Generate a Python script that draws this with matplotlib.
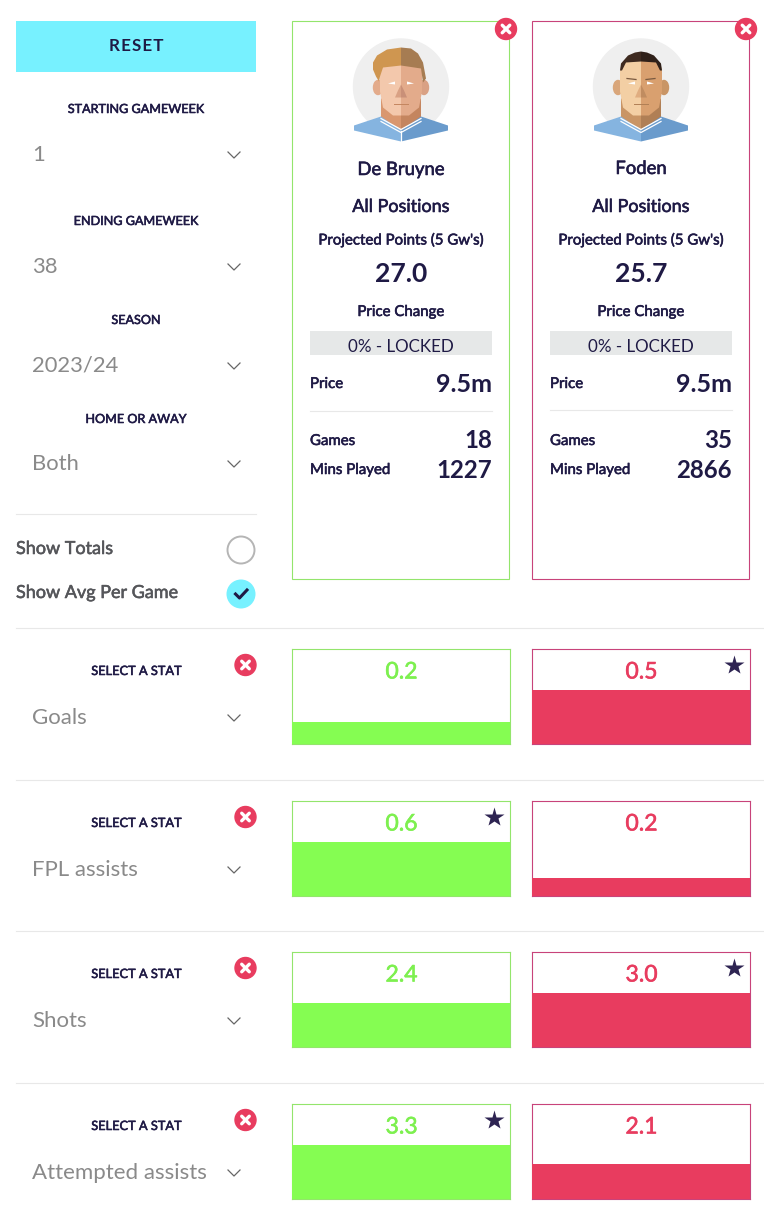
import matplotlib
matplotlib.use('Agg')
import matplotlib.pyplot as plt
import matplotlib.patheffects as pe
from matplotlib.patches import Circle, Ellipse, Polygon, Rectangle

plt.rcParams['font.family'] = ['Lato', 'DejaVu Sans']

NAVY = '#1f1a45'
GREY = '#8a8a8a'
DARK = '#55565a'
RULE = '#e8e8e8'
GREEN = '#85fd52'
GREEN_EDGE = '#93e56c'
RED = '#e83c5f'
RED_EDGE = '#c8437a'
CYAN = '#77f1ff'

# left panel
filter_labels = ['STARTING GAMEWEEK', 'ENDING GAMEWEEK', 'SEASON', 'HOME OR AWAY']
filter_values = ['1', '38', '2023/24', 'Both']
filter_label_y = [108, 220, 319, 418]
filter_value_y = [154, 266, 365, 463]

# players
players = ['De Bruyne', 'Foden']
projected = ['27.0', '25.7']
prices = ['9.5m', '9.5m']
games = [18, 35]
mins_played = [1227, 2866]

# stat rows
stat_names = ['Goals', 'FPL assists', 'Shots', 'Attempted assists']
de_bruyne_vals = [0.2, 0.6, 2.4, 3.3]
foden_vals = [0.5, 0.2, 3.0, 2.1]
row_tops = [649, 801, 952, 1104]
box_h = 94.5
# the bigger bar of a row fills this share of its box
top_share = 0.57
card_x = [292, 532]
card_w = 217.5

W, H = 764, 1226
fig = plt.figure(figsize=(W / 100, H / 100), dpi=100)
ax = fig.add_axes([0, 0, 1, 1], zorder=3)
ax.set_xlim(0, W)
ax.set_ylim(H, 0)
ax.axis('off')
ax.patch.set_alpha(0)


def txt(x, y, s, size, color=NAVY, ha='center', weight='medium'):
    # no medium cut of the font here, so thicken the regular one a little
    effects = []
    font_weight = weight
    if weight == 'medium':
        font_weight = 'normal'
        effects = [pe.withStroke(linewidth=0.4, foreground=color)]
    ax.text(x, y + 1, s, fontsize=size * 0.72, color=color, ha=ha, va='center',
            fontweight=font_weight, path_effects=effects)


def chevron(x, y):
    ax.plot([x - 6, x, x + 6], [y - 3, y + 3, y - 3], color='#666666', lw=0.9)


def close_btn(x, y, r=10.5):
    ax.add_patch(Circle((x, y), r, color=RED, zorder=5))
    d = r * 0.36
    ax.plot([x - d, x + d], [y - d, y + d], color='white', lw=2.4, zorder=6, solid_capstyle='round')
    ax.plot([x - d, x + d], [y + d, y - d], color='white', lw=2.4, zorder=6, solid_capstyle='round')


def poly(cx, cy, points, color, z=2):
    pts = [(cx + a, cy + b) for a, b in points]
    ax.add_patch(Polygon(pts, closed=True, facecolor=color, edgecolor='none', zorder=z))


def mirror(points):
    return [(-a, b) for a, b in points]


def portrait(cx, foden):
    # left half of the head is lit, right half in shade
    cy = 86.5
    ax.add_patch(Circle((cx, cy), 47.5, color='#efefef', zorder=1))
    if foden:
        hair_l, hair_r, skin_l, skin_r = '#3e2a20', '#2f2019', '#f3cfa4', '#d9a06f'
        neck_l, neck_r = '#c99565', '#b07f55'
        ear_l, ear_r = '#d9a67a', '#c99565'
        nose_l, nose_r = '#e0ad80', '#c08c60'
    else:
        hair_l, hair_r, skin_l, skin_r = '#cf9650', '#a67c52', '#f3c8ac', '#e3ab8b'
        neck_l, neck_r = '#d9976f', '#c4855f'
        ear_l, ear_r = '#e3ab8b', '#d9a184'
        nose_l, nose_r = '#d9a184', '#c99078'
    # neck
    neck = [(-20, 12), (0, 12), (0, 44), (-20, 33)]
    poly(cx, cy, neck, neck_l)
    poly(cx, cy, mirror(neck), neck_r)
    # ears
    ax.add_patch(Ellipse((cx - 23, cy + 1), 9, 14, color=ear_l, zorder=2))
    ax.add_patch(Ellipse((cx + 23, cy + 1), 9, 14, color=ear_r, zorder=2))
    # face
    face = [(-21, -16), (-19, -24), (0, -27), (0, 29), (-8, 29), (-18, 21), (-21, 5)]
    poly(cx, cy, face, skin_l, 3)
    poly(cx, cy, mirror(face), skin_r, 3)
    # hair
    if foden:
        hair = [(-21, -16), (-20, -23), (-13, -31), (-6, -34), (0, -35), (0, -25), (-15, -24), (-19, -16)]
        poly(cx, cy, hair, hair_l, 4)
        poly(cx, cy, mirror(hair), hair_r, 4)
        ax.plot([cx - 14, cx - 5], [cy - 8, cy - 7], color='#7a5a40', lw=0.9, zorder=4)
        ax.plot([cx + 14, cx + 5], [cy - 8, cy - 7], color='#7a5a40', lw=0.9, zorder=4)
    else:
        poly(cx, cy, [(-22, -5), (-25, -10), (-28, -17), (-28, -24), (-24, -31), (-14, -37), (0, -39),
                      (0, -21), (-18, -19), (-21, -10)], hair_l, 4)
        poly(cx, cy, [(0, -39), (10, -38), (17, -33), (22, -24), (25, -8), (22, -4), (20, -18), (0, -21)], hair_r, 4)
    # nose, eyes, mouth
    nose = [(0, -2), (0, 11), (-6, 11), (-3, 4)]
    poly(cx, cy, nose, nose_l, 4)
    poly(cx, cy, mirror(nose), nose_r, 4)
    for sign in (-1, 1):
        poly(cx, cy, [(sign * 13, -3), (sign * 6, -5), (sign * 6, -2)], 'white', 4)
    ax.plot([cx - 7, cx + 7], [cy + 17, cy + 17], color=neck_r, lw=0.7, zorder=4)
    # shirt
    shirt = [(-47, 39), (-20, 30), (0, 44), (0, 55), (-47, 44)]
    poly(cx, cy, shirt, '#85b4e0', 5)
    poly(cx, cy, mirror(shirt), '#6a9bcc', 5)
    ax.plot([cx - 20, cx, cx + 20], [cy + 32, cy + 43, cy + 32], color='white', lw=0.9, zorder=6)
    ax.plot([cx - 20, cx, cx + 20], [cy + 35, cy + 46, cy + 35], color='white', lw=0.9, zorder=6)
    if not foden:
        ax.plot([cx, cx], [cy + 44, cy + 55], color='white', lw=0.9, zorder=6)


# reset button and filters
ax.add_patch(Rectangle((16, 21), 240, 51, color=CYAN, lw=0))
txt(136, 45, '\u200a'.join('RESET'), 17, weight='bold')
for lab, val, ly, vy in zip(filter_labels, filter_values, filter_label_y, filter_value_y):
    txt(136, ly, lab, 12.6)
    txt(32, vy, val, 22, color=GREY, ha='left', weight='normal')
    chevron(234, vy + 1)

# toggles
ax.plot([16, 256], [514, 514], color=RULE, lw=0.8)
txt(16, 548, 'Show Totals', 18, color=DARK, ha='left')
txt(16, 592, 'Show Avg Per Game', 18, color=DARK, ha='left')
ax.add_patch(Circle((241, 550), 13.5, facecolor='white', edgecolor='#b5b5b5', lw=1.4))
ax.add_patch(Circle((241, 594), 14.5, facecolor=CYAN, edgecolor='none'))
ax.plot([235.5, 239.5, 247], [594, 598, 590], color=NAVY, lw=2.2)

# player cards
for i, x in enumerate(card_x):
    edge = GREEN_EDGE if i == 0 else RED_EDGE
    cx = x + 109
    ax.add_patch(Rectangle((x, 21), 217, 558, facecolor='white', edgecolor=edge, lw=0.8, zorder=0.5))
    close_btn(x + 214, 29)
    portrait(cx, i == 1)
    dy = 0 if i == 0 else -1
    txt(cx, 169 + dy, players[i], 18.5)
    txt(cx, 206, 'All Positions', 18)
    txt(cx, 239, "Projected Points (5 Gw's)", 15)
    txt(cx, 273, projected[i], 26.5, weight='bold')
    txt(cx, 311, 'Price Change', 15)
    ax.add_patch(Rectangle((x + 18, 331), 182, 24, color='#e6e8e8', lw=0, zorder=1))
    txt(cx, 346, '0% - LOCKED', 17, weight='normal')
    txt(x + 18, 383, 'Price', 15, ha='left')
    txt(x + 200, 383, prices[i], 25, ha='right', weight='bold')
    ax.plot([x + 18, x + 200], [411 + dy, 411 + dy], color=RULE, lw=0.8)
    txt(x + 18, 440, 'Games', 15, ha='left')
    txt(x + 200, 440, str(games[i]), 24, ha='right', weight='bold')
    txt(x + 18, 469, 'Mins Played', 15, ha='left')
    txt(x + 200, 469, str(mins_played[i]), 24, ha='right', weight='bold')

# stat rows
for r, top in enumerate(row_tops):
    ax.plot([16, 764], [top - 21, top - 21], color=RULE, lw=0.8)
    txt(136, top + 21, 'SELECT A STAT', 12.8)
    close_btn(245.5, top + 16)
    txt(32, top + 68, stat_names[r], 22.3, color=GREY, ha='left', weight='normal')
    chevron(234, top + 69)
    vals = [de_bruyne_vals[r], foden_vals[r]]
    best = max(vals)
    for i, x in enumerate(card_x):
        fill = GREEN if i == 0 else RED
        edge = GREEN_EDGE if i == 0 else RED_EDGE
        bar_ax = fig.add_axes([x / W, 1 - (top + box_h) / H, card_w / W, box_h / H], zorder=1)
        bar_ax.bar([0], [vals[i]], width=1, color=fill, zorder=5, clip_on=False)
        bar_ax.set_xlim(-0.5, 0.5)
        bar_ax.set_ylim(0, best / top_share)
        bar_ax.set_xticks([])
        bar_ax.set_yticks([])
        for sp in bar_ax.spines.values():
            sp.set_color(edge)
            sp.set_linewidth(0.8)
            sp.set_zorder(1)
        txt(x + 109.5, top + 22, '%.1f' % vals[i], 23, color=fill if i == 1 else '#7df04f')
        if vals[i] == best:
            ax.plot([x + 202], [top + 16], marker='*', ms=15, color='#2e2452', mec='none')

fig.savefig('out.png', dpi=100)
